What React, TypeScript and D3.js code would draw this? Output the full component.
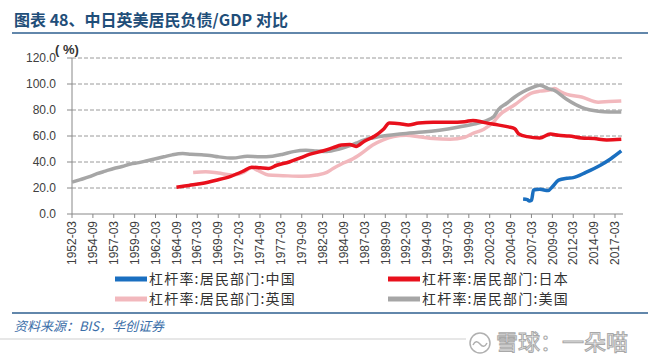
import React from "react";
import * as d3 from "d3";

type Pt = [string, number];

const chinaData: Pt[] = [
  ["2006-03", 11.5], ["2006-09", 11], ["2006-12", 10], ["2007-03", 10.5], ["2007-06", 18.5],
  ["2008-03", 19], ["2009-03", 18], ["2009-09", 21], ["2010-06", 26], ["2011-06", 27.5],
  ["2012-03", 28], ["2013-09", 32], ["2015-06", 37.5], ["2016-09", 42.5], ["2017-12", 48.5],
];

const japanData: Pt[] = [
  ["1964-09", 20.5], ["1966-03", 22], ["1967-09", 23.5], ["1969-06", 26], ["1971-03", 29],
  ["1972-09", 33], ["1973-09", 36], ["1974-09", 35.5], ["1975-09", 35], ["1976-09", 37.5],
  ["1978-03", 40], ["1979-06", 43], ["1980-09", 46], ["1982-03", 48.5], ["1983-06", 51],
  ["1984-06", 53], ["1985-06", 53.5], ["1986-03", 52], ["1987-03", 56], ["1988-06", 60],
  ["1989-06", 65], ["1990-03", 70], ["1991-06", 69.5], ["1992-06", 68.5], ["1993-09", 70],
  ["1995-06", 70.5], ["1997-06", 70.5], ["1999-03", 71], ["2000-03", 72], ["2001-06", 70.5],
  ["2002-09", 69], ["2004-06", 67], ["2005-03", 65.5], ["2005-09", 61.5], ["2006-09", 59.5],
  ["2008-03", 58.5], ["2009-06", 61.5], ["2010-06", 60.5], ["2011-09", 60], ["2013-03", 58.5],
  ["2014-09", 58], ["2016-03", 57], ["2017-12", 57.5],
];

const ukData: Pt[] = [
  ["1966-09", 32], ["1968-03", 32.5], ["1969-09", 31.5], ["1971-06", 30], ["1972-09", 32],
  ["1973-09", 35.5], ["1974-06", 33.5], ["1975-09", 30], ["1977-06", 29.5], ["1979-09", 29],
  ["1981-06", 30], ["1982-09", 32], ["1983-06", 35], ["1984-06", 38.5], ["1985-09", 42],
  ["1986-09", 46], ["1988-03", 53], ["1989-06", 57], ["1990-09", 59.5], ["1992-03", 60.5],
  ["1993-09", 59.5], ["1995-06", 58], ["1997-06", 57.5], ["1999-03", 59], ["2000-03", 62],
  ["2001-06", 65], ["2002-09", 71], ["2003-03", 75], ["2005-03", 84], ["2007-03", 93],
  ["2008-03", 94.5], ["2009-06", 95.5], ["2009-12", 96.5], ["2010-09", 94], ["2011-06", 92],
  ["2013-03", 90], ["2015-03", 86], ["2016-06", 86.5], ["2017-12", 87],
];

const usData: Pt[] = [
  ["1952-03", 24.5], ["1953-03", 26.5], ["1954-03", 28.5], ["1955-03", 31], ["1956-03", 33],
  ["1957-03", 35], ["1958-03", 36.5], ["1959-03", 38.5], ["1960-03", 39.5], ["1961-03", 41],
  ["1962-03", 42.5], ["1963-03", 44], ["1964-03", 45.5], ["1965-06", 46.5], ["1966-06", 46],
  ["1967-09", 45.5], ["1968-09", 45], ["1969-09", 44], ["1971-06", 43], ["1973-03", 44.5],
  ["1974-09", 44], ["1976-03", 44.5], ["1977-06", 46], ["1978-09", 48], ["1980-03", 49],
  ["1981-06", 48.5], ["1982-09", 48], ["1984-03", 50], ["1985-03", 52], ["1986-03", 54.5],
  ["1987-03", 57], ["1988-03", 58.5], ["1989-06", 60], ["1990-09", 61], ["1992-03", 62],
  ["1994-03", 63], ["1996-03", 64.5], ["1998-03", 66.5], ["2000-03", 69], ["2001-06", 71],
  ["2002-09", 75], ["2003-03", 80], ["2004-03", 85], ["2005-03", 90], ["2006-03", 94],
  ["2007-03", 97], ["2008-03", 99], ["2009-03", 96.5], ["2009-12", 95], ["2011-06", 88],
  ["2013-03", 82], ["2015-03", 79], ["2016-06", 78.5], ["2017-12", 78.5],
];

const xTickLabels = [
  "1952-03", "1954-09", "1957-03", "1959-09", "1962-03", "1964-09", "1967-03", "1969-09",
  "1972-03", "1974-09", "1977-03", "1979-09", "1982-03", "1984-09", "1987-03", "1989-09",
  "1992-03", "1994-09", "1997-03", "1999-09", "2002-03", "2004-09", "2007-03", "2009-09",
  "2012-03", "2014-09", "2017-03",
];

const yTicks = [0, 20, 40, 60, 80, 100, 120];

const seriesNames = [
  "杠杆率:居民部门:中国",
  "杠杆率:居民部门:日本",
  "杠杆率:居民部门:英国",
  "杠杆率:居民部门:美国",
];

const parse = d3.timeParse("%Y-%m");

export default function App() {
  const W = 660, H = 358;
  const x = d3.scaleTime().domain([parse("1952-03")!, parse("2018-01")!]).range([72, 622]);
  const y = d3.scaleLinear().domain([0, 120]).range([214, 58]);
  const line = d3
    .line<Pt>()
    .x((d) => x(parse(d[0])!))
    .y((d) => y(d[1]))
    .curve(d3.curveMonotoneX);

  const series = [
    { name: seriesNames[2], data: ukData, color: "#f2b8bd" },
    { name: seriesNames[3], data: usData, color: "#a6a6a6" },
    { name: seriesNames[1], data: japanData, color: "#e8101c" },
    { name: seriesNames[0], data: chinaData, color: "#1a6fc0" },
  ];
  const legend = [
    { name: seriesNames[0], color: "#1a6fc0", lx: 115, ly: 279 },
    { name: seriesNames[1], color: "#e8101c", lx: 388, ly: 279 },
    { name: seriesNames[2], color: "#f2b8bd", lx: 115, ly: 299 },
    { name: seriesNames[3], color: "#a6a6a6", lx: 388, ly: 299 },
  ];
  const numFont = "'Liberation Sans', Arial, sans-serif";
  const cjk = "'Noto Sans CJK SC', sans-serif";
  const xEnd = 623;

  return (
    <svg width={W} height={H} style={{ position: "absolute", left: 0, top: 0, background: "#fff" }}>
      <rect x={0} y={0} width={W} height={H} fill="#fff" />
      <text x={14} y={26} fontFamily={cjk} fontWeight={700} fontSize={16} fill="#1f4e79">
        图表 48、中日英美居民负债/GDP 对比
      </text>
      <line x1={12} x2={648} y1={33} y2={33} stroke="#2e5f8f" strokeWidth={1.5} />

      {yTicks.map((t) => (
        <g key={t}>
          {t > 0 && (
            <line x1={72} x2={xEnd} y1={y(t)} y2={y(t)} stroke="#9a9a9a" strokeWidth={1} strokeDasharray="4,2" />
          )}
          <line x1={67} x2={72} y1={y(t)} y2={y(t)} stroke="#888" />
          <text x={56} y={y(t)} dy="0.35em" textAnchor="end" fontFamily={numFont} fontSize={12} fill="#404040">
            {t.toFixed(1)}
          </text>
        </g>
      ))}
      <text x={55} y={54} fontFamily={numFont} fontSize={13} fontWeight={700} fill="#333">
        ( %)
      </text>
      <line x1={72} x2={72} y1={58} y2={214} stroke="#888" />
      <line x1={72} x2={xEnd} y1={214} y2={214} stroke="#888" />
      {xTickLabels.map((l) => {
        const xx = x(parse(l)!);
        return (
          <g key={l}>
            <line x1={xx} x2={xx} y1={214} y2={218} stroke="#888" />
            <text
              transform={`translate(${xx},${221}) rotate(-90)`}
              textAnchor="end"
              dy="0.35em"
              fontFamily={numFont}
              fontSize={12}
              fill="#404040"
            >
              {l}
            </text>
          </g>
        );
      })}

      {series.map((s) => (
        <path key={s.name} d={line(s.data) || ""} fill="none" stroke={s.color} strokeWidth={3.5} strokeLinejoin="round" />
      ))}

      {legend.map((l) => (
        <g key={l.name}>
          <line x1={l.lx} x2={l.lx + 32} y1={l.ly} y2={l.ly} stroke={l.color} strokeWidth={5} />
          <text x={l.lx + 34} y={l.ly} dy="0.36em" fontFamily={cjk} fontSize={14} letterSpacing={1.2} fill="#333">
            {l.name}
          </text>
        </g>
      ))}

      <line x1={12} x2={648} y1={313} y2={313} stroke="#2e5f8f" strokeWidth={1.5} />
      <text x={14} y={331} fontFamily={cjk} fontStyle="italic" fontSize={13} fill="#3b6ea8">
        资料来源：BIS，华创证券
      </text>
      <line x1={0} x2={466} y1={339} y2={339} stroke="#cfcfcf" strokeWidth={1} />
      <circle cx={480} cy={343} r={10} fill="none" stroke="#b0b0b0" strokeWidth={1.5} />
      <path d="M473,345 q3,-6 7,-1 q4,5 7,-1" fill="none" stroke="#b0b0b0" strokeWidth={1.5} />
      <text x={496} y={350} fontFamily={cjk} fontSize={22} fill="#fff" stroke="#a8a8a8" strokeWidth={1}>
        雪球：一朵喵
      </text>
    </svg>
  );
}
